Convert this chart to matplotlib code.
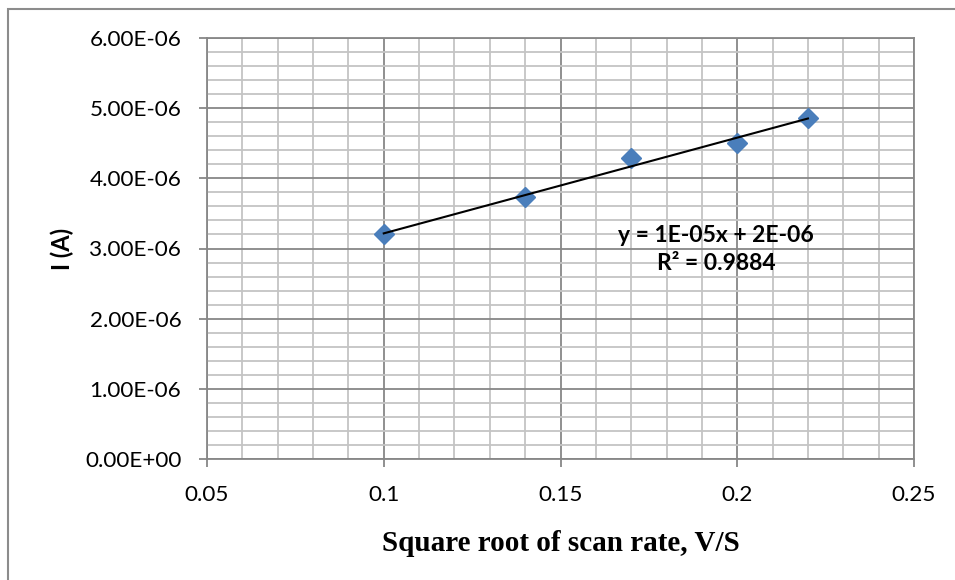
#!/usr/bin/env python3
import numpy as np
import matplotlib
matplotlib.use('Agg')
import matplotlib.pyplot as plt
from matplotlib.patches import Rectangle
from matplotlib.ticker import MultipleLocator, FuncFormatter

# data
scan_rate_sqrt = [0.10, 0.14, 0.17, 0.20, 0.22]
current = [3.20e-6, 3.73e-6, 4.29e-6, 4.50e-6, 4.86e-6]
x_ticks = [0.05, 0.1, 0.15, 0.2, 0.25]
y_ticks = [0.0, 1e-6, 2e-6, 3e-6, 4e-6, 5e-6, 6e-6]

sans = ['Lato', 'DejaVu Sans']
major_col = '#878787'
minor_col = '#c4c4c4'

fig = plt.figure(figsize=(9.55, 5.8), dpi=100)
fig.patch.set_facecolor('white')

# chart area border (runs off the right/bottom edge in the original)
border = Rectangle((8 / 955, -0.1), 1.2, (580 - 9) / 580 + 0.1, transform=fig.transFigure,
                   linewidth=1.5, edgecolor='#8c8c8c', facecolor='none')
fig.patches.append(border)

ax = fig.add_axes([207 / 955, (580 - 459) / 580, (914 - 207) / 955, (459 - 38) / 580])

ax.set_xlim(0.05, 0.25)
ax.set_ylim(0, 6e-6)
ax.set_xticks(x_ticks)
ax.set_yticks(y_ticks)
ax.xaxis.set_minor_locator(MultipleLocator(0.01))
ax.yaxis.set_minor_locator(MultipleLocator(2e-7))

ax.grid(which='minor', color=minor_col, linewidth=1.3)
ax.grid(which='major', color=major_col, linewidth=1.3)
ax.set_axisbelow(True)

for s in ax.spines.values():
    s.set_color(major_col)
    s.set_linewidth(1.3)

ax.tick_params(which='major', direction='out', length=6, width=1.3, color=major_col,
               labelsize=16.2)
ax.tick_params(axis='y', pad=12.5)
ax.tick_params(axis='x', pad=13)
ax.tick_params(which='minor', length=0)

ax.xaxis.set_major_formatter(FuncFormatter(lambda v, p: ('%.2f' % v).rstrip('0').rstrip('.')))
ax.yaxis.set_major_formatter(FuncFormatter(lambda v, p: '%.2E' % v))
for lab in ax.get_xticklabels() + ax.get_yticklabels():
    lab.set_family(sans)

# scatter points
ax.plot(scan_rate_sqrt, current, linestyle='none', marker='D', markersize=10,
        color='#4a7ebb', zorder=3)

# linear trendline
xs = np.array(scan_rate_sqrt)
ys = np.array(current)
m, b = np.polyfit(xs, ys, 1)
ax.plot([xs.min(), xs.max()], [m * xs.min() + b, m * xs.max() + b], color='black',
        linewidth=1.5, zorder=4)

ax.text(0.194, 3.19e-6, 'y = 1E-05x + 2E-06', ha='center', va='center',
        fontsize=16.5, fontweight='bold', family=sans, zorder=5)
ax.text(0.194, 2.79e-6, 'R² = 0.9884', ha='center', va='center',
        fontsize=16.5, fontweight='bold', family=sans, zorder=5)

ax.set_xlabel('Square root of scan rate, V/S', family='Liberation Serif', fontweight='bold',
              fontsize=21, labelpad=18)
ax.set_ylabel('I (A)', family=sans, fontweight='bold', fontsize=17, labelpad=8)

fig.savefig('out.png', dpi=100)
